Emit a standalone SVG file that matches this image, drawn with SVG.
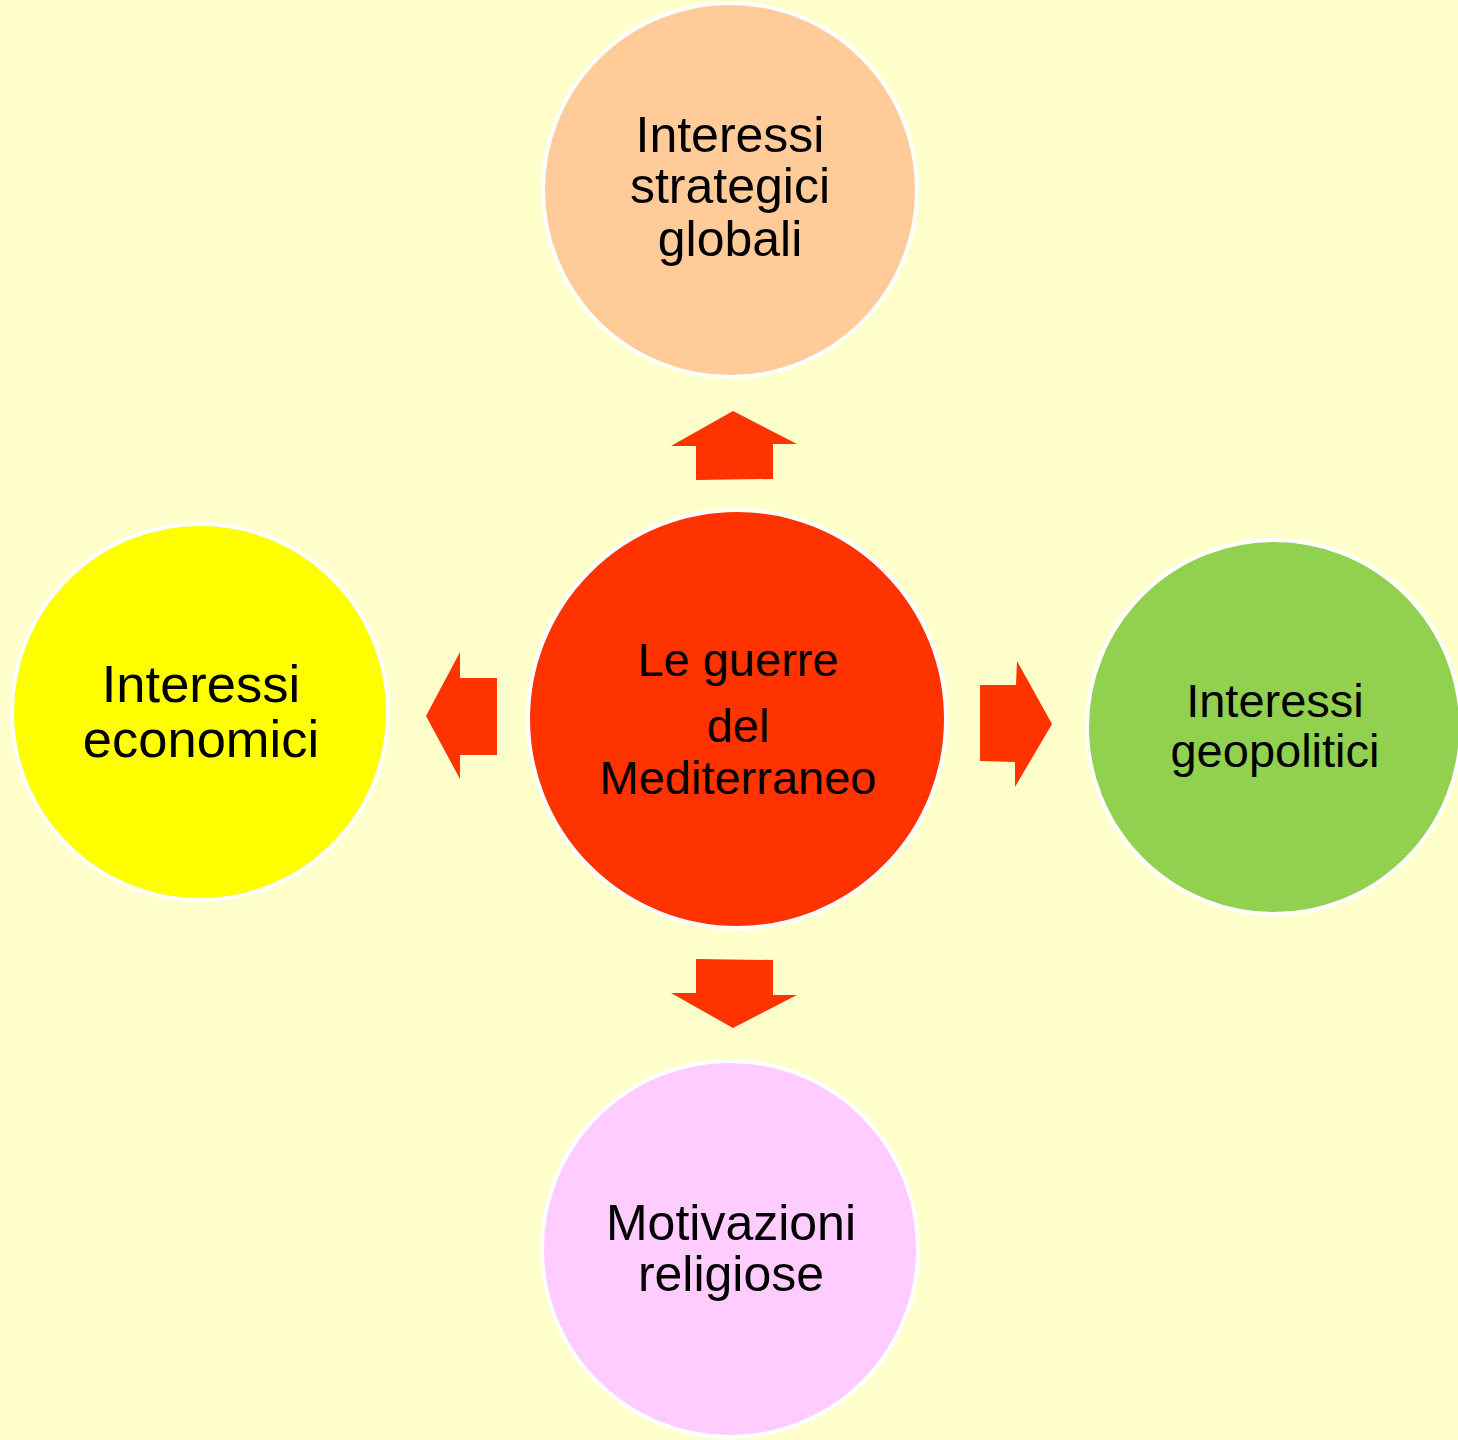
<svg xmlns="http://www.w3.org/2000/svg" width="1458" height="1440" viewBox="0 0 1458 1440">
<style>
.node circle{stroke:#FFFFFF;stroke-width:4}
.t{font-family:"Liberation Sans",Arial,sans-serif;fill:#000;text-anchor:middle}
.arrow{fill:#FF3300}
</style>
<rect x="0" y="0" width="1458" height="1440" fill="#FFFFCC"/>
<g id="connectors">
<polygon class="arrow" points="733,411 797,444 773,444 773,479 696,480 696,446 671,446"/>
<polygon class="arrow" points="696,959 773,960 773,995 797,995 733,1028 671,993 696,993"/>
<polygon class="arrow" points="426,716 460,652 460,678 497,678 497,755 460,755 460,779"/>
<polygon class="arrow" points="980,685 1016,685 1017,661 1052,724 1015,787 1015,762 980,761"/>
</g>
<g id="node-top" class="node">
<circle cx="730" cy="190" r="187" fill="#FFCC99"/>
<text class="t" font-size="50"><tspan x="730" y="152">Interessi</tspan><tspan x="730" y="203">strategici</tspan><tspan x="730" y="256">globali</tspan></text>
</g>
<g id="node-center" class="node">
<circle cx="737" cy="719" r="209" fill="#FF3300"/>
<text class="t" font-size="47"><tspan x="738" y="676">Le guerre</tspan><tspan x="738" y="742">del</tspan><tspan x="738" y="794">Mediterraneo</tspan></text>
</g>
<g id="node-left" class="node">
<circle cx="200" cy="712" r="188" fill="#FFFF00"/>
<text class="t" font-size="52.5"><tspan x="201" y="702">Interessi</tspan><tspan x="201" y="757">economici</tspan></text>
</g>
<g id="node-right" class="node">
<circle cx="1274" cy="727" r="187" fill="#92D050"/>
<text class="t" font-size="47"><tspan x="1275" y="717">Interessi</tspan><tspan x="1275" y="767">geopolitici</tspan></text>
</g>
<g id="node-bottom" class="node">
<circle cx="730" cy="1249" r="188" fill="#FFCCFF"/>
<text class="t" font-size="50"><tspan x="731" y="1240">Motivazioni</tspan><tspan x="731" y="1291">religiose</tspan></text>
</g>
</svg>
